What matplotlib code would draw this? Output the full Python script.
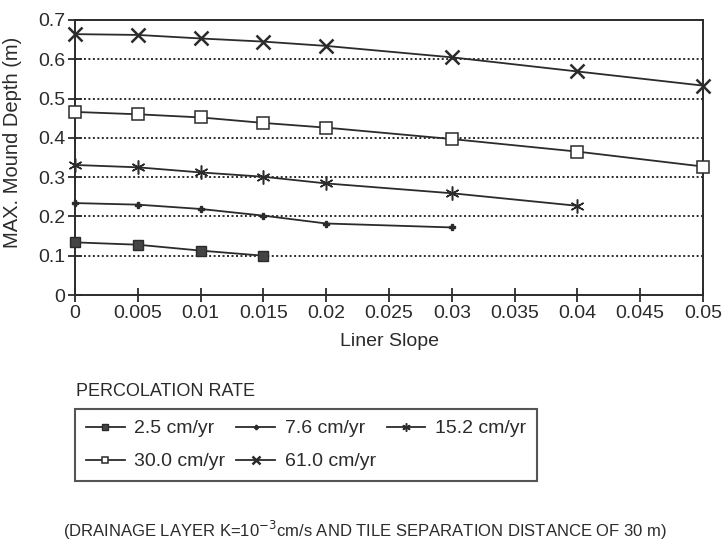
import matplotlib
matplotlib.use("Agg")
import matplotlib.pyplot as plt
from matplotlib.ticker import FixedLocator, FixedFormatter

plt.rcParams['font.family'] = ['Liberation Sans', 'DejaVu Sans']

# liner slope values (x) and max mound depth (m) for each percolation rate
slope = [0, 0.005, 0.01, 0.015, 0.02, 0.03, 0.04, 0.05]
depth_2_5 = [0.134, 0.128, 0.113, 0.100]
depth_7_6 = [0.234, 0.230, 0.219, 0.202, 0.182, 0.172]
depth_15_2 = [0.331, 0.325, 0.312, 0.301, 0.284, 0.259, 0.227]
depth_30_0 = [0.466, 0.460, 0.452, 0.438, 0.426, 0.397, 0.365, 0.327]
depth_61_0 = [0.664, 0.662, 0.653, 0.645, 0.634, 0.605, 0.569, 0.533]

labels = ['2.5 cm/yr', '7.6 cm/yr', '15.2 cm/yr', '30.0 cm/yr', '61.0 cm/yr']
xtick_vals = [0, 0.005, 0.01, 0.015, 0.02, 0.025, 0.03, 0.035, 0.04, 0.045, 0.05]
xtick_text = ['0', '0.005', '0.01', '0.015', '0.02', '0.025', '0.03', '0.035', '0.04', '0.045', '0.05']
ytick_vals = [0, 0.1, 0.2, 0.3, 0.4, 0.5, 0.6, 0.7]
ytick_text = ['0', '0.1', '0.2', '0.3', '0.4', '0.5', '0.6', '0.7']

ink = '#2b2b2b'

fig = plt.figure(figsize=(7.24, 5.42), dpi=100)
ax = fig.add_axes([75/724, 1-295/542, 628/724, 275/542])

# dotted gridlines at 0.1 .. 0.6
for yv in ytick_vals[1:-1]:
    ax.axhline(yv, color=ink, lw=1.4, ls=(0, (1, 1.3)), zorder=1)

h1, = ax.plot(slope[:len(depth_2_5)], depth_2_5, color=ink, lw=1.3, marker='s',
              ms=7, mfc='#444444', mec=ink, clip_on=False, zorder=3)
h2, = ax.plot(slope[:len(depth_7_6)], depth_7_6, color=ink, lw=1.3, marker='P',
              ms=5, mfc=ink, mec=ink, clip_on=False, zorder=3)
h3, = ax.plot(slope[:len(depth_15_2)], depth_15_2, color=ink, lw=1.3, marker=(6, 2, 0),
              ms=10, mec=ink, mew=1.1, clip_on=False, zorder=3)
h4, = ax.plot(slope[:len(depth_30_0)], depth_30_0, color=ink, lw=1.3, marker='s',
              ms=8, mfc='white', mec=ink, mew=1.1, clip_on=False, zorder=3)
h5, = ax.plot(slope[:len(depth_61_0)], depth_61_0, color=ink, lw=1.3, marker='x',
              ms=10, mec=ink, mew=1.8, clip_on=False, zorder=3)

ax.set_xlim(0, 0.05)
ax.set_ylim(0, 0.7)
ax.xaxis.set_major_locator(FixedLocator(xtick_vals))
ax.xaxis.set_major_formatter(FixedFormatter(xtick_text))
ax.yaxis.set_major_locator(FixedLocator(ytick_vals))
ax.yaxis.set_major_formatter(FixedFormatter(ytick_text))
ax.tick_params(direction='inout', length=10, width=1.3, color=ink,
               labelsize=14, labelcolor=ink, pad=2)
for sp in ax.spines.values():
    sp.set_color(ink)
    sp.set_linewidth(1.4)

ax.set_xlabel('Liner Slope', fontsize=14, color=ink, labelpad=8)
ax.set_ylabel('MAX. Mound Depth (m)', fontsize=14.5, color=ink)
ax.yaxis.set_label_coords(-0.085, 0.555)

# legend: 2 rows, 3 columns (column-wise fill)
order = [h1, h4, h2, h5, h3]
order_lab = [labels[0], labels[3], labels[1], labels[4], labels[2]]
leg = fig.legend(order, order_lab, ncol=3, loc='upper left',
                 bbox_to_anchor=(75/724, 1-409/542), borderaxespad=0,
                 fontsize=14, frameon=True, fancybox=False, edgecolor=ink,
                 handlelength=2.0, handletextpad=0.5, columnspacing=0.55,
                 labelspacing=0.8, borderpad=0.55, markerscale=0.6)
leg.get_frame().set_linewidth(1.5)
for t in leg.get_texts():
    t.set_color(ink)

fig.text(76/724, 1-392/542, 'PERCOLATION RATE', fontsize=13, color=ink,
         ha='left', va='center')
fig.text(365/724, 1-530/542,
         '(DRAINAGE LAYER K=10$^{-3}$cm/s AND TILE SEPARATION DISTANCE OF 30 m)',
         fontsize=12, color=ink, ha='center', va='center')

fig.savefig('out.png', dpi=100)
